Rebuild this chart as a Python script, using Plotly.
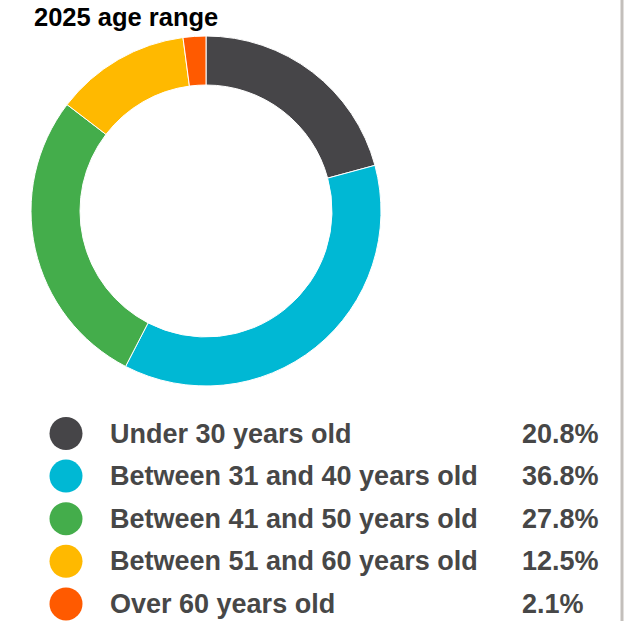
import plotly.graph_objects as go

W, H = 643, 621

title = "2025 age range"
categories = ["Under 30 years old", "Between 31 and 40 years old",
              "Between 41 and 50 years old", "Between 51 and 60 years old",
              "Over 60 years old"]
values = [20.8, 36.8, 27.8, 12.5, 2.1]
pct_labels = ["20.8%", "36.8%", "27.8%", "12.5%", "2.1%"]
colors = ["#464548", "#00b8d4", "#44ad4b", "#ffb900", "#ff5a00"]

FONT = "Liberation Sans, Arial, sans-serif"
TEXT_COLOR = "#474747"

def px(x):
    return x / W

def py(y):
    return 1 - y / H

fig = go.Figure()
fig.add_trace(go.Pie(
    labels=categories, values=values, sort=False, direction="clockwise",
    rotation=0, hole=0.72, textinfo="none", hoverinfo="label+percent",
    marker=dict(colors=colors, line=dict(color="white", width=1)),
    domain=dict(x=[px(31), px(381)], y=[py(386), py(36)]),
    showlegend=False,
))

annotations = [dict(text="<b>" + title + "</b>", x=px(32), y=py(17),
                    xref="paper", yref="paper", xanchor="left", yanchor="middle",
                    showarrow=False, font=dict(family=FONT, size=25.5, color="#000000"))]
shapes = []
row0, step = 433.5, 42.6
r = 16.5
for i, (cat, pl, col) in enumerate(zip(categories, pct_labels, colors)):
    yc = row0 + i * step
    shapes.append(dict(type="circle", xref="paper", yref="paper",
                       x0=px(66 - r), x1=px(66 + r), y0=py(yc + r), y1=py(yc - r),
                       fillcolor=col, line=dict(width=0)))
    annotations.append(dict(text="<b>" + cat + "</b>", x=px(108), y=py(yc),
                            xref="paper", yref="paper", xanchor="left", yanchor="middle",
                            showarrow=False, font=dict(family=FONT, size=27, color=TEXT_COLOR)))
    annotations.append(dict(text="<b>" + pl + "</b>", x=px(520), y=py(yc),
                            xref="paper", yref="paper", xanchor="left", yanchor="middle",
                            showarrow=False, font=dict(family=FONT, size=27, color=TEXT_COLOR)))

shapes.append(dict(type="line", xref="paper", yref="paper", x0=px(622), x1=px(622),
                   y0=0, y1=1, line=dict(color="#c3bfbb", width=3)))

fig.update_layout(width=W, height=H, margin=dict(l=0, r=0, t=0, b=0),
                  paper_bgcolor="white", plot_bgcolor="white",
                  annotations=annotations, shapes=shapes)

fig.write_html("out.html")
